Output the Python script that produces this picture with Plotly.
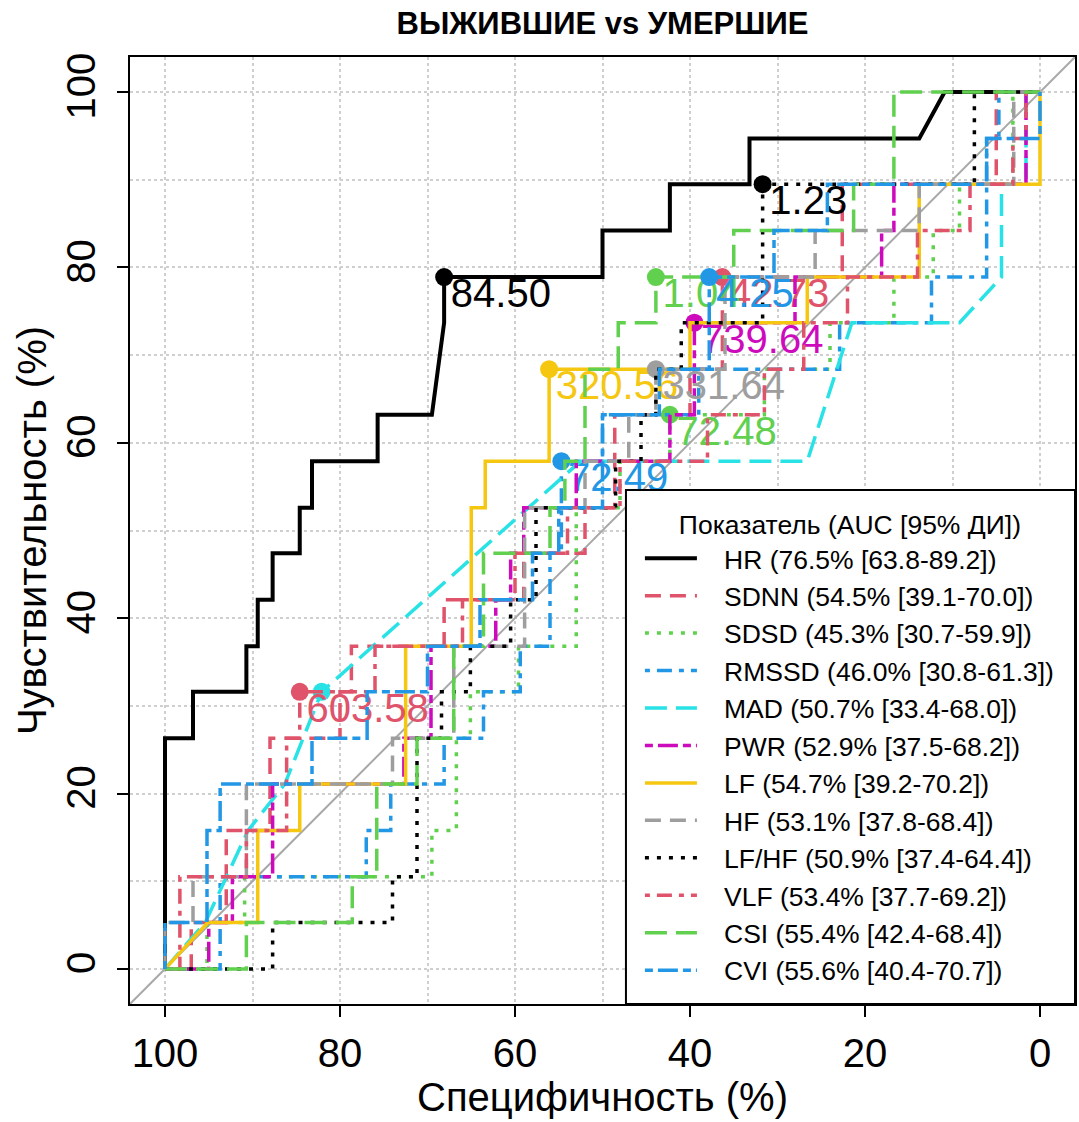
import plotly.graph_objects as go

# ---------------- data ----------------
series_names = ["HR", "SDNN", "SDSD", "RMSSD", "MAD", "PWR", "LF", "HF", "LF/HF", "VLF", "CSI", "CVI"]
auc_text = ["76.5% [63.8-89.2]", "54.5% [39.1-70.0]", "45.3% [30.7-59.9]", "46.0% [30.8-61.3]",
            "50.7% [33.4-68.0]", "52.9% [37.5-68.2]", "54.7% [39.2-70.2]", "53.1% [37.8-68.4]",
            "50.9% [37.4-64.4]", "53.4% [37.7-69.2]", "55.4% [42.4-68.4]", "55.6% [40.4-70.7]"]
legend_title = "Показатель (AUC [95% ДИ])"

hr_spec = [100, 100, 96.8, 96.8, 90.7, 90.7, 89.4, 89.4, 87.7, 87.7, 84.6, 84.6, 83.2, 83.2, 75.7, 75.7, 69.5, 68.1, 68.1, 50, 50, 42.3, 42.3, 33.2, 33.2, 13.8, 10.9, 0]
hr_sens = [0, 26.3, 26.3, 31.6, 31.6, 36.8, 36.8, 42.1, 42.1, 47.4, 47.4, 52.6, 52.6, 57.9, 57.9, 63.2, 63.2, 73.7, 78.9, 78.9, 84.2, 84.2, 89.5, 89.5, 94.7, 94.7, 100, 100]

sdnn_spec = [100, 97, 97, 93, 93, 88, 88, 80, 80, 78.7, 78.7, 68.1, 68.1, 59, 59, 52, 52, 48.6, 48.6, 40, 40, 36.3, 36.3, 22.6, 22.6, 5, 5, 0]
sdnn_sens = [0, 0, 5.3, 5.3, 15.8, 15.8, 26.3, 26.3, 31.6, 31.6, 36.8, 36.8, 42.1, 42.1, 47.4, 47.4, 52.6, 52.6, 63.2, 63.2, 68.4, 68.4, 78.9, 78.9, 89.5, 89.5, 100, 100]

sdsd_spec = [100, 95.2, 95.2, 90.9, 90.9, 69.5, 69.5, 66.7, 66.7, 65.1, 65.1, 59.6, 59.6, 53, 53, 48, 48, 42.3, 42.3, 31.5, 31.5, 24, 24, 16.7, 16.7, 12.2, 12.2, 9.2, 9.2, 3.1, 3.1, 0]
sdsd_sens = [0, 0, 5.3, 5.3, 10.5, 10.5, 15.8, 15.8, 26.3, 26.3, 31.6, 31.6, 36.8, 36.8, 52.6, 52.6, 57.9, 57.9, 63.2, 63.2, 68.4, 68.4, 73.7, 73.7, 78.9, 78.9, 84.2, 84.2, 89.5, 89.5, 100, 100]

rmssd_spec = [100, 93.7, 93.7, 77, 77, 74.2, 74.2, 68.1, 68.1, 63.6, 63.6, 59.4, 59.4, 56, 56, 54.7, 54.7, 50, 50, 39, 39, 22.9, 22.9, 12.4, 12.4, 6.1, 6.1, 4.7, 4.7, 0]
rmssd_sens = [0, 0, 10.5, 10.5, 15.8, 15.8, 21.1, 21.1, 26.3, 26.3, 31.6, 31.6, 36.8, 36.8, 47.4, 47.4, 57.9, 57.9, 63.2, 63.2, 68.4, 68.4, 73.7, 73.7, 78.9, 78.9, 94.7, 94.7, 100, 100]

mad_spec = [100, 95.4, 90.5, 86.3, 82.1, 52.5, 26.6, 21.5, 9.2, 4.4, 4.4, 1.6, 1.6, 0]
mad_sens = [0, 5.3, 15.8, 21.1, 31.6, 57.9, 57.9, 73.7, 73.7, 78.9, 89.5, 89.5, 100, 100]

pwr_spec = [100, 95, 95, 92.3, 92.3, 87.7, 87.7, 72.7, 72.7, 69.6, 69.6, 62.2, 62.2, 60.5, 60.5, 59, 59, 53, 53, 42.3, 42.3, 39.5, 39.5, 28, 28, 18.1, 18.1, 16.7, 16.7, 1.6, 1.6, 0]
pwr_sens = [0, 0, 5.3, 5.3, 10.5, 10.5, 21.1, 21.1, 26.3, 26.3, 36.8, 36.8, 42.1, 42.1, 47.4, 47.4, 52.6, 52.6, 57.9, 57.9, 63.2, 63.2, 73.7, 73.7, 78.9, 78.9, 84.2, 84.2, 89.5, 89.5, 100, 100]

lf_spec = [100, 95.1, 89.4, 89.4, 84.6, 84.6, 72.5, 72.5, 65, 65, 63.4, 63.4, 56.1, 56.1, 40, 40, 26.6, 26.6, 13.8, 13.8, 0, 0]
lf_sens = [0, 5.3, 5.3, 15.8, 15.8, 21.1, 21.1, 36.8, 36.8, 52.6, 52.6, 57.9, 57.9, 68.4, 68.4, 73.7, 73.7, 78.9, 78.9, 89.5, 89.5, 100]

hf_spec = [100, 100, 96.8, 96.8, 90.7, 90.7, 74, 74, 67, 67, 58.9, 58.9, 52, 52, 47, 47, 43.9, 43.9, 36, 36, 25.7, 25.7, 13.8, 13.8, 3, 3, 0]
hf_sens = [0, 5.3, 5.3, 10.5, 10.5, 21.1, 21.1, 26.3, 26.3, 36.8, 36.8, 52.6, 52.6, 57.9, 57.9, 63.2, 63.2, 68.4, 68.4, 78.9, 78.9, 84.2, 84.2, 89.5, 89.5, 100, 100]

lfhf_spec = [100, 87.7, 87.7, 74, 74, 71.2, 71.2, 68.4, 68.4, 65.1, 65.1, 60.5, 60.5, 57.6, 57.6, 48.5, 48.5, 45.6, 45.6, 43.9, 43.9, 41, 41, 31.7, 31.7, 7.5, 7.5, 0]
lfhf_sens = [0, 0, 5.3, 5.3, 10.5, 10.5, 26.3, 26.3, 31.6, 31.6, 36.8, 36.8, 42.1, 42.1, 52.6, 52.6, 57.9, 57.9, 63.2, 63.2, 68.4, 68.4, 73.7, 73.7, 89.5, 89.5, 100, 100]

vlf_spec = [100, 98.3, 98.3, 90.7, 90.7, 86.1, 86.1, 84.6, 84.6, 76, 76, 66, 66, 60, 60, 54, 54, 48, 48, 38, 38, 31.5, 31.5, 27, 27, 22, 22, 14, 14, 8, 8, 3.1, 3.1, 1.6, 1.6, 0]
vlf_sens = [0, 0, 10.5, 10.5, 15.8, 15.8, 26.3, 26.3, 31.6, 31.6, 36.8, 36.8, 42.1, 42.1, 47.4, 47.4, 52.6, 52.6, 57.9, 57.9, 63.2, 63.2, 68.4, 68.4, 73.7, 73.7, 78.9, 78.9, 84.2, 84.2, 89.5, 89.5, 94.7, 94.7, 100, 100]

csi_spec = [100, 90.7, 90.7, 78.6, 78.6, 75.8, 75.8, 71.2, 71.2, 67, 67, 63.6, 63.6, 56, 56, 54.3, 54.3, 52, 52, 48.2, 48.2, 43.9, 43.9, 35, 35, 21.3, 21.3, 16.7, 16.7, 0]
csi_sens = [0, 0, 5.3, 5.3, 10.5, 10.5, 21.1, 21.1, 26.3, 26.3, 36.8, 36.8, 47.4, 47.4, 52.6, 52.6, 57.9, 57.9, 68.4, 68.4, 73.7, 73.7, 78.9, 78.9, 84.2, 84.2, 89.5, 89.5, 100, 100]

cvi_spec = [100, 100, 95.2, 95.2, 93.7, 93.7, 83.2, 83.2, 76.9, 76.9, 70, 70, 64, 64, 58, 58, 55, 55, 50, 50, 43.5, 43.5, 37.8, 37.8, 30.4, 30.4, 24.3, 24.3, 6.1, 6.1, 0, 0]
cvi_sens = [0, 5.3, 5.3, 15.8, 15.8, 21.1, 21.1, 26.3, 26.3, 31.6, 31.6, 36.8, 36.8, 42.1, 42.1, 47.4, 47.4, 52.6, 52.6, 63.2, 63.2, 68.4, 68.4, 78.9, 78.9, 84.2, 84.2, 89.5, 89.5, 94.7, 94.7, 100]

# optimal thresholds (best points)
opt_spec = [68.1, 36.3, 42.3, 54.7, 82.1, 39.5, 56.1, 43.9, 31.7, 84.6, 43.9, 37.8]
opt_sens = [78.9, 78.9, 63.2, 57.9, 31.6, 73.7, 68.4, 68.4, 89.5, 31.6, 78.9, 78.9]
opt_labels = ["84.50", "42.73", "72.48", "72.49", "", "739.64", "320.56", "331.64", "1.23", "603.58", "1.04", "4.25"]

diag_spec = [104, -4]
diag_sens = [-4, 104]

tick_vals = [0, 20, 40, 60, 80, 100]
minor_vals = [10, 30, 50, 70, 90]

# ---------------- styles ----------------
curves = [(hr_spec, hr_sens), (sdnn_spec, sdnn_sens), (sdsd_spec, sdsd_sens), (rmssd_spec, rmssd_sens),
          (mad_spec, mad_sens), (pwr_spec, pwr_sens), (lf_spec, lf_sens), (hf_spec, hf_sens),
          (lfhf_spec, lfhf_sens), (vlf_spec, vlf_sens), (csi_spec, csi_sens), (cvi_spec, cvi_sens)]

colors = ["#000000", "#DF536B", "#61D04F", "#2297E6", "#28E2E5", "#CD0BBC", "#F5C710", "#9E9E9E",
          "#000000", "#DF536B", "#61D04F", "#2297E6"]
DASHED = "16px,9px"
DOTTED = "4px,8px"
DOTDASH = "5px,7px,15px,7px"
LONGDASH = "22px,9px"
TWODASH = "8px,5px,20px,5px"
dashes = ["solid", DASHED, DOTTED, DOTDASH, LONGDASH, TWODASH, "solid", DASHED, DOTTED, DOTDASH, LONGDASH, TWODASH]

FONT = "Liberation Sans, Arial, sans-serif"
NB = "\u00a0\u00a0\u00a0"
SMALL_SPACE = "\u2006"

fig = go.Figure()

fig.add_trace(go.Scatter(x=diag_spec, y=diag_sens, mode="lines",
                         line=dict(color="#A8A8A8", width=2), showlegend=False, hoverinfo="skip"))

for i, (sx, sy) in enumerate(curves):
    fig.add_trace(go.Scatter(
        x=sx, y=sy, mode="lines",
        line=dict(color=colors[i], width=4 if i == 0 else 3.5, dash=dashes[i]),
        name=f"{NB}{series_names[i]} ({auc_text[i]})",
        showlegend=True))
    fig.add_trace(go.Scatter(
        x=[opt_spec[i]], y=[opt_sens[i]], mode="markers",
        marker=dict(color=colors[i], size=18),
        showlegend=False, hoverinfo="skip"))
    if opt_labels[i]:
        fig.add_trace(go.Scatter(
            x=[opt_spec[i]], y=[opt_sens[i]], mode="text",
            text=[SMALL_SPACE + opt_labels[i]], textposition="bottom right",
            textfont=dict(family=FONT, size=40, color=colors[i]),
            showlegend=False, hoverinfo="skip", cliponaxis=False))

axis_common = dict(
    tickmode="array", tickvals=tick_vals, ticks="outside", ticklen=11, tickwidth=2,
    tickcolor="black", tickfont=dict(family=FONT, size=40, color="black"),
    showline=True, mirror=True, linecolor="black", linewidth=2,
    showgrid=True, gridcolor="#CFCFCF", griddash="dot", gridwidth=1.5,
    minor=dict(tickmode="array", tickvals=minor_vals, showgrid=True,
               gridcolor="#CFCFCF", griddash="dot", gridwidth=1.5, ticks=""),
    zeroline=False, fixedrange=True,
)

PLOT_L, PLOT_R, PLOT_T, PLOT_B = 130, 1077, 57, 1004
PW, PH = PLOT_R - PLOT_L, PLOT_B - PLOT_T

# legend frame (reference box: x 627..1077, y 490..1004 in pixels)
fig.add_shape(type="rect", xref="paper", yref="paper",
              x0=(627 - PLOT_L) / PW, x1=1.0, y0=0.0, y1=(PLOT_B - 490) / PH,
              fillcolor="white", line=dict(color="black", width=2), layer="above")

fig.update_layout(
    width=1079, height=1122,
    margin=dict(l=PLOT_L, r=1079 - PLOT_R, t=PLOT_T, b=1122 - PLOT_B),
    paper_bgcolor="white", plot_bgcolor="white",
    font=dict(family=FONT, color="black"),
    title=dict(text="<b>ВЫЖИВШИЕ vs УМЕРШИЕ</b>", x=0.5, xref="paper", xanchor="center",
               y=1 - 23 / 1122, yanchor="middle", font=dict(family=FONT, size=31, color="black")),
    xaxis=dict(range=[104, -4], title=dict(text="Специфичность (%)", font=dict(family=FONT, size=40), standoff=7),
               ticklabelstandoff=2, **axis_common),
    yaxis=dict(range=[-4, 104], tickangle=-90,
               title=dict(text="Чувствительность (%)", font=dict(family=FONT, size=40), standoff=0),
               ticklabelstandoff=6, **axis_common),
    legend=dict(x=(641 - PLOT_L) / PW, y=(PLOT_B - 500) / PH, xanchor="left", yanchor="top",
                bgcolor="rgba(0,0,0,0)", borderwidth=0,
                font=dict(family=FONT, size=26.5, color="black"),
                title=dict(text=legend_title, side="top center",
                           font=dict(family=FONT, size=26.5, color="black")),
                itemwidth=52, tracegroupgap=0),
    showlegend=True,
)

fig.write_html("out.html", config={"displayModeBar": False},
               post_script="document.body.style.margin='0';document.body.style.padding='0';")
